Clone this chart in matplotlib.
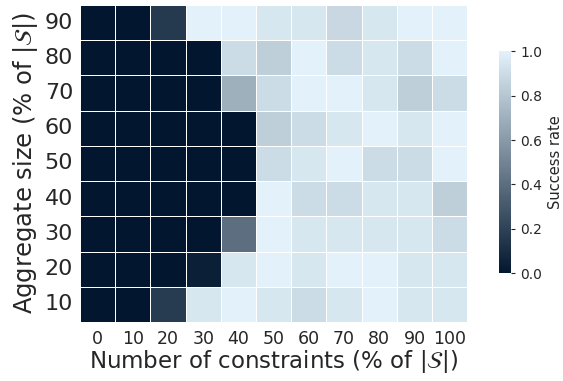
import numpy as np
import matplotlib
matplotlib.use("Agg")
import matplotlib.pyplot as plt
import seaborn as sns
from matplotlib.colors import LinearSegmentedColormap

constraints = [0, 10, 20, 30, 40, 50, 60, 70, 80, 90, 100]
aggregate_sizes = [90, 80, 70, 60, 50, 40, 30, 20, 10]

row_90 = [0.00, 0.00, 0.16, 1.00, 1.00, 0.95, 0.95, 0.88, 0.95, 1.00, 1.00]
row_80 = [0.00, 0.00, 0.00, 0.00, 0.90, 0.84, 1.00, 0.90, 0.95, 0.90, 1.00]
row_70 = [0.00, 0.00, 0.00, 0.00, 0.70, 0.90, 1.00, 1.00, 0.95, 0.84, 0.90]
row_60 = [0.00, 0.00, 0.00, 0.00, 0.00, 0.84, 0.90, 0.95, 1.00, 0.95, 1.00]
row_50 = [0.00, 0.00, 0.00, 0.00, 0.00, 0.90, 0.95, 1.00, 0.90, 0.90, 1.00]
row_40 = [0.00, 0.00, 0.00, 0.00, 0.00, 1.00, 0.90, 0.90, 0.95, 0.95, 0.84]
row_30 = [0.00, 0.00, 0.00, 0.00, 0.40, 1.00, 0.95, 0.95, 0.95, 0.95, 0.90]
row_20 = [0.00, 0.00, 0.00, 0.04, 0.95, 1.00, 0.95, 1.00, 1.00, 0.95, 0.95]
row_10 = [0.00, 0.00, 0.17, 0.95, 1.00, 0.95, 0.90, 0.95, 1.00, 0.95, 0.95]

data = np.array([row_90, row_80, row_70, row_60, row_50, row_40, row_30, row_20, row_10])

cmap = LinearSegmentedColormap.from_list("navy_ice", ["#02172f", "#e2f1fa"])

fig = plt.figure(figsize=(5.63, 3.81), dpi=100)
ax = fig.add_axes([0.142, 0.155, 0.688, 0.832])
cax = fig.add_axes([0.886, 0.283, 0.022, 0.582])

sns.heatmap(data, ax=ax, cbar_ax=cax, cmap=cmap, vmin=0, vmax=1,
            linewidths=0.6, linecolor="white",
            xticklabels=constraints, yticklabels=aggregate_sizes,
            cbar_kws={"label": "Success rate"})

ax.tick_params(axis="x", length=0, labelsize=12.5, pad=6, colors="#262626")
ax.tick_params(axis="y", length=0, labelsize=16, pad=5, colors="#262626")
plt.setp(ax.get_yticklabels(), rotation=0)
plt.setp(ax.get_xticklabels(), rotation=0)
ax.set_xlabel(r"Number of constraints (% of $|\mathcal{S}|$)", fontsize=16.5, color="#262626", labelpad=0)
ax.set_ylabel(r"Aggregate size (% of $|\mathcal{S}|$)", fontsize=17.5, color="#262626", labelpad=3)

cax.tick_params(labelsize=10, length=3, colors="#262626")
cax.set_yticks([0, 0.2, 0.4, 0.6, 0.8, 1.0])
cax.yaxis.label.set_size(10.5)
cax.yaxis.label.set_color("#262626")
for s in cax.spines.values():
    s.set_visible(False)

fig.savefig("out.png", dpi=100)
